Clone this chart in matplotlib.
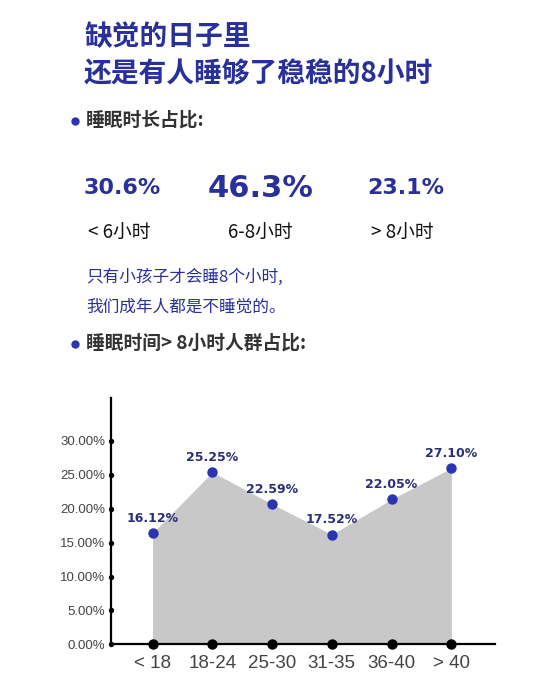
import matplotlib
matplotlib.use("Agg")
import matplotlib.pyplot as plt
from matplotlib.lines import Line2D

plt.rcParams['font.family'] = ['Noto Sans CJK SC', 'DejaVu Sans']

# data
share_values = ["30.6%", "46.3%", "23.1%"]
share_labels = ["< 6小时", "6-8小时", "> 8小时"]
ages = ["< 18", "18-24", "25-30", "31-35", "36-40", "> 40"]
ratio = [16.4, 25.4, 20.7, 16.2, 21.4, 26.0]   # heights as drawn
ratio_labels = ["16.12%", "25.25%", "22.59%", "17.52%", "22.05%", "27.10%"]
yticks = [0, 5, 10, 15, 20, 25, 30]

W, H = 550, 690
BLUE = "#29309a"
DOT = "#2a34b0"

fig = plt.figure(figsize=(W / 100, H / 100), dpi=100)
fig.patch.set_facecolor("white")

def px(x, y):
    return x / W, 1 - y / H

def bullet(x, y):
    fx, fy = px(x, y)
    fig.add_artist(Line2D([fx], [fy], marker="o", markersize=5, color=DOT, transform=fig.transFigure))

# title
fig.text(*px(84, 37), "缺觉的日子里", color=BLUE, fontsize=20, fontweight="heavy", va="center")
fig.text(*px(84, 74), "还是有人睡够了稳稳的8小时", color=BLUE, fontsize=20, fontweight="heavy", va="center")

# section 1
bullet(75, 121)
fig.text(*px(86, 120), "睡眠时长占比:", color="#333333", fontsize=13.5, fontweight="bold", va="center")

num_x = [122, 261, 406]
num_size = [16, 22, 16]
for x, v, s in zip(num_x, share_values, num_size):
    fig.text(*px(x, 188), v, color=BLUE, fontsize=s, fontweight="bold", ha="center", va="center",
             family=["DejaVu Sans"])
lab_x = [88, 228, 371]
for x, t in zip(lab_x, share_labels):
    fig.text(*px(x, 233), t, color="#111111", fontsize=13.5, ha="left", va="center")

fig.text(*px(86, 277), "只有小孩子才会睡8个小时,", color=BLUE, fontsize=12, va="center")
fig.text(*px(86, 307), "我们成年人都是不睡觉的。", color=BLUE, fontsize=12, va="center")

bullet(75, 344)
fig.text(*px(86, 343), "睡眠时间> 8小时人群占比:", color="#333333", fontsize=13.5, fontweight="bold", va="center")

# chart
left, right, top, bottom = 110.7, 495, 398.3, 644.3
ax = fig.add_axes([left / W, 1 - bottom / H, (right - left) / W, (bottom - top) / H])
xs = list(range(len(ages)))
ax.set_xlim(-0.70, 5.73)
ax.set_ylim(0, 36.3)

ax.fill_between(xs, ratio, 0, color="#c8c8c8", linewidth=0, zorder=1)
ax.scatter(xs, ratio, s=42, color=DOT, zorder=3, clip_on=False)
ax.scatter(xs, [0] * len(xs), s=42, color="black", zorder=4, clip_on=False)
for x, y, t in zip(xs, ratio, ratio_labels):
    ax.annotate(t, (x, y), xytext=(0, 6), textcoords="offset points", ha="center", va="bottom",
                color="#2a2f7a", fontsize=9, fontweight="bold", family=["DejaVu Sans"])

for s in ["top", "right"]:
    ax.spines[s].set_visible(False)
for s in ["left", "bottom"]:
    ax.spines[s].set_linewidth(1.6)
    ax.spines[s].set_color("black")

ax.set_yticks(yticks)
ax.set_yticklabels([f"{v:.2f}%" for v in yticks], color="#444444", fontsize=9.5, family=["Liberation Sans"])
ax.scatter([ax.get_xlim()[0]] * len(yticks), yticks, s=8, color="black", zorder=5, clip_on=False)
ax.set_xticks(xs)
ax.set_xticklabels(ages, color="#444444", fontsize=13.5, family=["Liberation Sans"])
ax.tick_params(axis="both", length=0)
ax.tick_params(axis="y", pad=4)
ax.tick_params(axis="x", pad=8)

fig.savefig("out.png", dpi=100, facecolor="white")
